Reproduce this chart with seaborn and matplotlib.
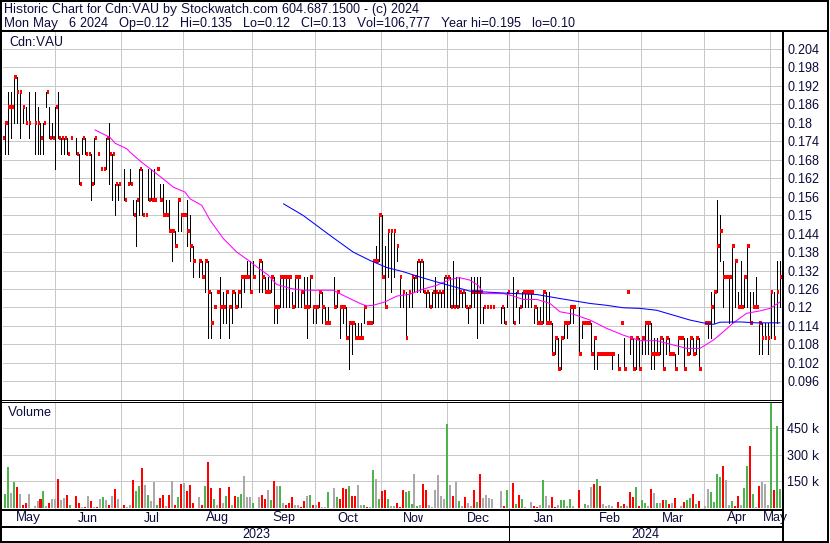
import numpy as np
import pandas as pd
import matplotlib
matplotlib.use('Agg')
import matplotlib.pyplot as plt
import matplotlib.transforms as mtrans
from matplotlib.lines import Line2D
import seaborn as sns

# ---- data (one entry per weekday, None = no trading) ----
first_day = '2023-05-08'
last_day = '2024-05-06'

high = [
    .19, .18, .19, .19, .195, .195, .19, .185, .185, .19,
    None, .19, .185, .18, .18, .19, .185, .18, .185, .19,
    .175, .175, .175, .175, None, .175, .17, .175, .175, .17,
    .17, .175, .17, .165, .165, .175, .18, .17, .16, .16,
    None, .165, .16, .165, .155, .155, .165, .165, .15, .165,
    .165, .165, .165, .16, .16, .155, .155, .145, .145, .155,
    .15, .15, .155, .15, .14, None, .135, .135, .135, .135,
    .125, .12, .125, .13, .125, .125, .12, .125, .125, .125,
    .13, .13, .135, .135, .135, None, .135, .135, .13, .13,
    .13, .13, .12, .13, .13, .13, .13, .125, .13, .13,
    .125, .13, .13, .13, .12, .12, .125, .125, .12, .12,
    None, .13, .125, .12, .12, .12, .115, .115, .115, .115,
    .115, .12, .115, .115, .135, .14, .15, .15, .14, .145,
    .145, .145, .14, .13, .125, .125, .125, .13, .13, .135,
    .135, .135, .125, .125, .125, .13, .125, .125, .13, .13,
    .13, .135, .13, .13, .125, .125, .12, .13, .13, .13,
    .13, .12, .12, .12, .12, None, None, .12, .12, .125,
    None, .13, .125, .12, .125, .125, .125, .125, .12, .12,
    .12, .125, .125, .125, .115, .11, .11, .11, .115, .115,
    .12, .12, None, .12, .115, .115, .115, .115, .11, .105,
    .105, .105, .105, .105, .105, None, .105, .115, .11, .125,
    .11, .11, .11, .11, .11, .115, .115, .115, .11, .11,
    .11, .11, .11, .11, .105, .105, .11, .11, .11, .11,
    .11, .11, .11, .11, None, .115, .115, .125, .125, .155,
    .15, .135, .13, .13, .14, .135, .125, .135, .13, .14,
    .125, .125, .13, .115, .115, .115, .115, .125, .125, .135, .135,
]
low = [
    .17, .17, .17, .175, .18, .18, .175, .18, .18, .175,
    None, .17, .17, .17, .17, .185, .175, .175, .165, .175,
    .17, .17, .17, .175, None, .17, .16, .17, .17, .17,
    .155, .16, .17, .165, .165, .165, .16, .155, .15, .155,
    None, .155, .16, .16, .15, .14, .15, .15, .15, .155,
    .155, .155, .165, .155, .15, .15, .145, .135, .14, .145,
    .145, .15, .14, .135, .13, None, .13, .13, .125, .11,
    .11, .12, .125, .11, .115, .115, .11, .115, .12, .12,
    .12, .125, .13, .125, .13, None, .125, .125, .125, .125,
    .125, .115, .115, .12, .12, .12, .12, .12, .12, .12,
    .12, .12, .11, .12, .115, .115, .12, .115, .115, .115,
    None, .12, .12, .11, .115, .11, .10, .105, .11, .11,
    .11, .115, .115, .115, .115, .135, .135, .13, .12, .13,
    .125, .13, .135, .12, .12, .11, .12, .12, .125, .125,
    .125, .125, .12, .12, .12, .12, .12, .12, .12, .12,
    .12, .12, .12, .12, .12, .12, .115, .12, .12, .11,
    .115, .115, .12, .12, .12, None, None, .115, .115, .12,
    None, .115, .12, .115, .12, .12, .12, .12, .115, .115,
    .115, .115, .115, .115, .105, .105, .10, .10, .11, .11,
    .115, .115, None, .105, .11, .115, .115, .105, .10, .10,
    .105, .105, .105, .105, .10, None, .10, .115, .10, .125,
    .105, .10, .10, .10, .105, .105, .105, .10, .10, .105,
    .105, .10, .105, .105, .105, .10, .105, .11, .10, .105,
    .105, .105, .105, .10, None, .115, .11, .11, .115, .125,
    .135, .12, .13, .115, .115, .12, .12, .12, .12, .12,
    .115, .12, .12, .105, .105, .11, .105, .11, .11, .115, .12,
]
close = [
    .175, .18, .185, .185, .195, .19, .19, .185, .18, .18,
    None, .18, .18, .175, .18, .19, .175, .175, .185, .175,
    .175, .175, .17, .175, None, .17, .16, .175, .17, .17,
    .16, .175, .17, .165, .165, .175, .17, .17, .16, .16,
    None, .155, .16, .16, .15, .155, .165, .15, .15, .155,
    .155, .155, .165, .155, .15, .15, .145, .145, .14, .155,
    .15, .15, .145, .14, .135, None, .135, .13, .135, .125,
    .115, .12, .125, .12, .12, .125, .12, .125, .12, .125,
    .13, .13, .13, .125, .13, None, .135, .13, .125, .125,
    .13, .12, .12, .13, .13, .13, .13, .12, .13, .13,
    .125, .12, .12, .13, .12, .12, .125, .12, .115, .115,
    None, .12, .125, .12, .12, .11, .115, .115, .11, .11,
    .11, .12, .115, .115, .135, .135, .15, .13, .12, .145,
    .145, .145, .14, .13, .125, .11, .125, .13, .13, .135,
    .135, .125, .125, .12, .125, .125, .125, .125, .13, .13,
    .12, .12, .12, .125, .125, .12, .12, .125, .125, .125,
    .125, .12, .12, .12, .12, None, None, .12, .115, .125,
    None, .115, .125, .12, .125, .125, .125, .125, .12, .115,
    .115, .125, .115, .115, .105, .11, .10, .11, .115, .115,
    .12, .12, None, .105, .115, .115, .115, .105, .11, .105,
    .105, .105, .105, .105, .105, None, .10, .115, .10, .125,
    .11, .10, .11, .10, .11, .115, .115, .105, .105, .105,
    .11, .10, .11, .105, .105, .10, .11, .11, .10, .105,
    .11, .105, .11, .10, None, .115, .115, .12, .125, .14,
    .145, .13, .13, .13, .14, .135, .12, .12, .13, .14,
    .115, .12, .12, .115, .11, .11, .11, .125, .11, .125, .13,
]
# daily volume, thousands of shares
volume_k = [
    10, 77, 228, 81, 146, 114, 77, 13, 24, 77,
    0, 10, 38, 50, 93, 6, 27, 46, 46, 163,
    42, 54, 72, 17, 0, 65, 27, 5, 5, 63,
    36, 5, 5, 46, 61, 42, 17, 65, 103, 50,
    0, 12, 3, 12, 155, 93, 121, 222, 128, 72,
    36, 143, 15, 56, 72, 6, 72, 153, 12, 59,
    132, 140, 93, 126, 27, 0, 57, 12, 121, 256,
    109, 49, 12, 109, 25, 65, 115, 12, 63, 61,
    77, 177, 61, 61, 25, 0, 61, 72, 50, 97,
    42, 153, 121, 121, 25, 15, 25, 57, 15, 12,
    2, 38, 63, 72, 12, 15, 33, 3, 2, 86,
    0, 112, 61, 50, 112, 103, 121, 63, 65, 126,
    15, 12, 5, 3, 212, 163, 46, 93, 98, 48,
    8, 8, 25, 5, 98, 86, 93, 20, 190, 10,
    15, 134, 100, 14, 3, 100, 186, 66, 49, 472,
    129, 66, 146, 37, 6, 60, 26, 6, 100, 31,
    192, 54, 72, 54, 49, 0, 0, 94, 6, 100,
    0, 140, 20, 72, 49, 2, 0, 31, 6, 3,
    14, 157, 66, 14, 60, 2, 14, 43, 43, 9,
    49, 9, 0, 100, 0, 20, 14, 117, 133, 163,
    123, 20, 9, 14, 6, 0, 31, 9, 20, 6,
    89, 60, 117, 6, 43, 26, 6, 106, 83, 26,
    26, 43, 43, 20, 26, 54, 0, 6, 31, 43,
    54, 77, 20, 37, 0, 9, 106, 89, 31, 192,
    175, 238, 157, 14, 37, 9, 66, 14, 112, 238,
    352, 77, 1, 123, 146, 134, 14, 650, 100, 461, 107,
]
# volume bar colour: 1 = up day, -1 = down day, 0 = unchanged
vol_dir = [
    0, 1, 1, 0, 1, -1, 0, -1, -1, 0,
    0, 0, 0, -1, 1, 0, -1, 0, 0, -1,
    0, 0, -1, 1, 0, -1, -1, 0, -1, 0,
    -1, 0, -1, 0, 1, 0, -1, 0, -1, 0,
    0, -1, 0, 0, -1, 1, 1, -1, 0, 1,
    0, 0, 1, -1, -1, 0, -1, 0, -1, 1,
    -1, 0, -1, -1, -1, 0, 0, -1, 1, -1,
    -1, 1, 0, -1, 0, 1, -1, 0, -1, 1,
    1, 0, 0, 0, 1, 0, 0, -1, -1, 0,
    1, -1, 0, 1, 0, -1, -1, -1, 0, 0,
    -1, -1, 0, 1, -1, 0, -1, 0, 0, 1,
    0, 0, 1, -1, -1, -1, 1, -1, -1, 0,
    0, 1, -1, 0, 1, 0, 1, -1, -1, 1,
    0, 0, -1, -1, -1, 1, 1, 1, 0, 1,
    0, -1, -1, 0, 0, 0, 0, 0, 0, 1,
    0, -1, 0, 1, 0, -1, 0, 0, -1, 1,
    -1, 0, 0, 0, 0, 0, 0, 0, -1, 1,
    0, -1, 1, -1, 1, 0, 0, 0, -1, -1,
    0, 1, 0, 0, -1, -1, 0, 1, 1, 0,
    1, 0, 0, -1, 0, 1, 0, 0, -1, 1,
    -1, 0, 0, 0, 0, 0, -1, 1, -1, 0,
    -1, -1, 1, -1, 1, 1, 0, -1, 0, 1,
    0, -1, 1, -1, 0, -1, 0, 0, -1, 1,
    1, -1, 1, -1, 0, 0, 0, 1, 1, 1,
    1, -1, 0, 0, 1, -1, -1, 0, 1, 1,
    -1, 1, 0, -1, 0, 0, 0, 1, -1, 1, 1,
]

# moving averages (day index, price)
ma_short_day = [31.2, 36.2, 37.9, 41.8, 42.9, 46.8, 49.6, 54.0, 57.4, 61.3,
                63.0, 66.9, 69.7, 74.1, 78.6, 82.5, 85.3, 89.1, 91.9, 96.4,
                100.7, 110.8, 115.3, 119.8, 122.0, 124.2, 128.1, 132.1, 136.5, 141.0,
                145.4, 149.9, 153.0, 156.5, 159.3, 161.0, 167.7, 170.0, 174.4, 178.9,
                183.3, 186.6, 191.1, 196.7, 202.2, 207.8, 213.4, 218.9, 224.5, 229.0,
                233.4, 237.9, 241.2, 244.6, 249.0, 253.5, 256.8, 260.2]
ma_short_val = [.1777, .1753, .1734, .1716, .1705, .1672, .1651, .1618, .1591, .1575,
                .1553, .1532, .1483, .1424, .1380, .1353, .1332, .1305, .1275, .1262,
                .1256, .1256, .1234, .1213, .1205, .1207, .1218, .1237, .1243, .1260,
                .1272, .1291, .1297, .1289, .1272, .1245, .1245, .1240, .1226, .1226,
                .1213, .1186, .1178, .1159, .1132, .1110, .1092, .1092, .1078, .1067,
                .1067, .1094, .1121, .1150, .1181, .1189, .1197, .1218]
ma_long_day = [94.2, 100.8, 109.8, 117.5, 123.1, 128.7, 134.3, 139.8, 145.4, 152.1,
               156.5, 167.7, 178.9, 186.6, 196.7, 202.2, 207.8, 213.4, 218.9, 224.5,
               230.1, 234.5, 237.9, 240.1, 246.8, 252.4, 260.2]
ma_long_val = [.1537, .1499, .1434, .1380, .1353, .1330, .1316, .1299, .1283, .1265,
               .1253, .1247, .1242, .1229, .1213, .1207, .1199, .1197, .1191, .1175,
               .1159, .1150, .1145, .1152, .1153, .1150, .1150]

price_ticks = [0.096, 0.102, 0.108, 0.114, 0.12, 0.126, 0.132, 0.138, 0.144, 0.15,
               0.156, 0.162, 0.168, 0.174, 0.18, 0.186, 0.192, 0.198, 0.204]
vol_ticks = [150000, 300000, 450000]
vol_tick_labels = ['150 k', '300 k', '450 k']

title_1 = 'Historic Chart for Cdn:VAU by Stockwatch.com 604.687.1500 - (c) 2024'
GAP = '  \u2009'
title_2 = GAP.join(['Mon May' + GAP + '6 2024', 'Op=0.12', 'Hi=0.135', 'Lo=0.12',
                    'Cl=0.13', 'Vol=106,777', 'Year hi=0.195', 'lo=0.10'])

# ---- style ----
sns.set_style('white')
plt.rcParams['font.family'] = ['Liberation Sans', 'DejaVu Sans']
plt.rcParams['text.hinting'] = 'native'
plt.rcParams['text.hinting_factor'] = 1
TXT = '#0c0c3c'
GRID = '#c8c8c8'
vol_colors = {1: '#4db34d', -1: '#ff0000', 0: '#a9a9a9'}

W, H = 830, 543
fig = plt.figure(figsize=(W / 100, H / 100), dpi=100)
fig.patch.set_facecolor('white')


def fx(px):
    return px / W


def fy(py):
    return 1 - py / H


days = pd.bdate_range(first_day, last_day)
idx = np.arange(len(days))
hi = np.array(high, dtype=float)
lo = np.array(low, dtype=float)
cl = np.array(close, dtype=float)
vol = np.array(volume_k, dtype=float) * 1000
ok = ~np.isnan(cl)

XL = (0.30, 260.83)
ax = fig.add_axes([fx(2.5), fy(400), fx(782) - fx(2.5), (400 - 31.5) / H])
axv = fig.add_axes([fx(2.5), fy(509), fx(782) - fx(2.5), (509 - 402) / H])

# month boundaries
month_firsts = pd.date_range('2023-06-01', '2024-05-01', freq='MS')
bounds = np.searchsorted(days.values, month_firsts.values) - 0.25

THIN = 0.5
for a in (ax, axv):
    a.set_xlim(*XL)
    for s in a.spines.values():
        s.set_visible(False)
    a.set_xticks([])
    a.set_facecolor('white')
    for b in bounds:
        a.axvline(b, color=GRID, lw=THIN, zorder=0, antialiased=False)

# price panel
ax.set_ylim(0.08992, 0.2097)
for t in price_ticks:
    ax.axhline(t, color=GRID, lw=THIN, zorder=0, antialiased=False)
ax.vlines(idx[ok], lo[ok], hi[ok], color='black', lw=THIN, zorder=2,
          antialiased=False)
ax.hlines(cl[ok], idx[ok] + 0.1, idx[ok] + 0.98, color='#ff0000', lw=1.5,
          zorder=3, antialiased=False)
sns.lineplot(x=ma_short_day, y=ma_short_val, ax=ax, color='#ff00ff', lw=0.75,
             legend=False, zorder=4)
sns.lineplot(x=ma_long_day, y=ma_long_val, ax=ax, color='#0000ff', lw=0.75,
             legend=False, zorder=4)
ax.set_xlabel('')
ax.set_ylabel('')
ax.yaxis.tick_right()
ax.set_yticks(price_ticks)
ax.set_yticklabels([f'{t:.3f}'.rstrip('0') for t in price_ticks])
ax.tick_params(axis='y', length=0, pad=3.8, labelsize=9, labelcolor=TXT)

# volume panel
axv.set_ylim(-8500, 599000)
for t in vol_ticks:
    axv.axhline(t, color=GRID, lw=THIN, zorder=0, antialiased=False)
colors = [vol_colors[d] for d in np.array(vol_dir)]
axv.bar(idx, vol, width=0.67, color=colors, linewidth=0, zorder=2,
        antialiased=False)
axv.yaxis.tick_right()
axv.set_yticks(vol_ticks)
axv.set_yticklabels(vol_tick_labels)
axv.tick_params(axis='y', length=0, pad=3.8, labelsize=9, labelcolor=TXT)

# texts
fig.text(fx(3.5), fy(9.5), title_1, ha='left', va='center', fontsize=9.2, color=TXT)
fig.text(fx(3.5), fy(23.5), title_2, ha='left', va='center', fontsize=9.2, color=TXT)
fig.text(fx(9), fy(42), 'Cdn:VAU', ha='left', va='center', fontsize=9.2, color=TXT)
fig.text(fx(8), fy(413), 'Volume', ha='left', va='center', fontsize=9.2, color=TXT)

tr = mtrans.blended_transform_factory(axv.transData, fig.transFigure)
edges = [XL[0]] + list(bounds) + [XL[1]]
labels = ['May'] + [d.strftime('%b') for d in month_firsts]
for k, lab in enumerate(labels):
    xm = (edges[k] + edges[k + 1]) / 2
    axv.text(xm, fy(518), lab, transform=tr, ha='center', va='center',
             fontsize=9.4, color=TXT, clip_on=False)
jan = bounds[list(month_firsts.month).index(1)]
axv.text((XL[0] + jan) / 2, fy(534.5), '2023', transform=tr, ha='center',
         va='center', fontsize=9.4, color=TXT, clip_on=False)
axv.text((jan + XL[1]) / 2, fy(534.5), '2024', transform=tr, ha='center',
         va='center', fontsize=9.4, color=TXT, clip_on=False)


# frame lines (pixel coordinates)
def pline(x0, y0, x1, y1, lw=1.44):
    fig.add_artist(Line2D([fx(x0), fx(x1)], [fy(y0), fy(y1)], transform=fig.transFigure,
                          color='black', lw=lw, solid_capstyle='butt',
                          antialiased=False))


pline(0, 1, 829, 1)
pline(1, 0, 1, 543)
pline(827.5, 0, 827.5, 543)
pline(0, 541.8, 829, 541.8)
pline(0, 30.5, 829, 30.5)
pline(782.8, 30, 782.8, 543)
pline(0, 400.3, 783, 400.3, lw=THIN)
pline(0, 402.2, 783, 402.2, lw=THIN)
pline(0, 509.6, 783, 509.6)
pline(0, 527.2, 783, 527.2)
xj = fx(2.5) + (jan - XL[0]) / (XL[1] - XL[0]) * (fx(782) - fx(2.5))
pline(xj * W, 509.6, xj * W, 542, lw=THIN)

fig.savefig('out.png', dpi=100, facecolor='white')
